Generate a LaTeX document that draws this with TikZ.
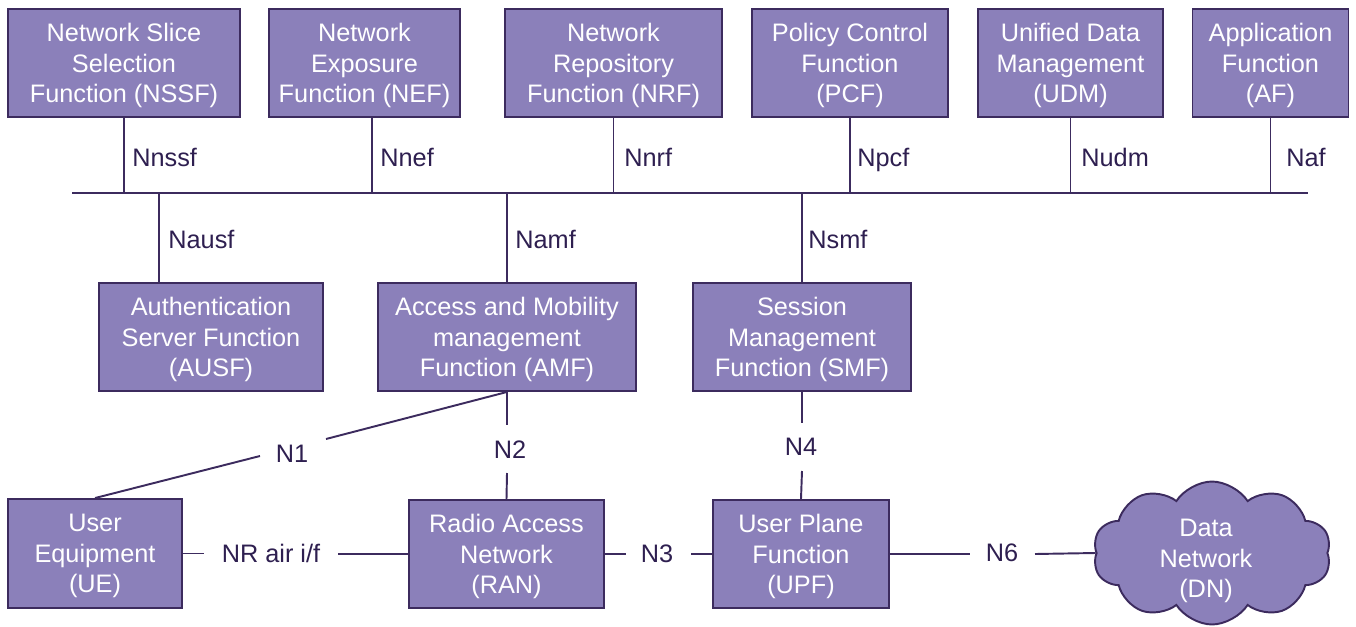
\documentclass[tikz,border=0pt]{standalone}
\usepackage{fontspec}
\setmainfont{Liberation Sans}
\usetikzlibrary{shapes.symbols,calc}
\definecolor{nffill}{HTML}{8B80BA}
\definecolor{nfline}{HTML}{3C2B5E}
\definecolor{lbl}{HTML}{2E1F50}
\begin{document}
\begin{tikzpicture}[x=0.02cm,y=-0.02cm,
  txt/.style={font=\fontsize{14.4}{17.4}\selectfont},
  nf/.style={txt, draw=nfline, fill=nffill, line width=1.1pt, text=white,
    align=center, inner sep=0pt, text depth=0pt, minimum height=2.16cm},
  iface/.style={txt, text=lbl, inner sep=0pt},
  link/.style={draw=nfline, line width=1.1pt}]
\useasboundingbox (0,0) rectangle (1356,626);

% service-based network functions (top row)
\node[nf, minimum width=4.64cm] (nssf) at (124,63)    {Network Slice\\Selection\\Function (NSSF)};
\node[nf, minimum width=3.82cm] (nef)  at (364.5,63)  {Network\\Exposure\\Function (NEF)};
\node[nf, minimum width=4.34cm] (nrf)  at (613.5,63)  {Network\\Repository\\Function (NRF)};
\node[nf, minimum width=3.92cm] (pcf)  at (850,63)    {Policy Control\\Function\\(PCF)};
\node[nf, minimum width=3.70cm] (udm)  at (1070.5,63) {Unified Data\\Management\\(UDM)};
\node[nf, minimum width=3.12cm] (af)   at (1270.5,63) {Application\\Function\\(AF)};

% middle row
\node[nf, minimum width=4.48cm] (ausf) at (211,337) {Authentication\\Server Function\\(AUSF)};
\node[nf, minimum width=5.16cm] (amf)  at (507,337) {Access and Mobility\\management\\Function (AMF)};
\node[nf, minimum width=4.36cm] (smf)  at (802,337) {Session\\Management\\Function (SMF)};

% user plane row
\node[nf, minimum width=3.48cm, minimum height=2.18cm] (ue)  at (95,553.5) {User\\Equipment\\(UE)};
\node[nf, minimum width=3.90cm] (ran) at (506.5,554) {Radio Access\\Network\\(RAN)};
\node[nf, minimum width=3.52cm] (upf) at (801,554)   {User Plane\\Function\\(UPF)};

% data network cloud, its caption sits a little below the centre
\node[cloud, cloud puffs=10, cloud puff arc=115, aspect=1.6, draw=nfline, fill=nffill,
  line width=1.1pt, inner sep=0pt,
  minimum width=4.76cm, minimum height=2.86cm] (dn) at (1212,553) {};
\node[txt, text=white, align=center, inner sep=0pt, text depth=0pt]
  (dntext) at (1206,558.5) {Data\\Network\\(DN)};

% service bus
\coordinate (busL) at (72,193);
\coordinate (busR) at (1308,193);
\draw[link] (busL) -- (busR);

\coordinate (nefp)  at ([xshift=0.15cm]nef.south);
\coordinate (ausfp) at ([xshift=-1.04cm]ausf.north);
\draw[link] (nssf.south) -- (nssf.south |- busL);
\draw[link] (nefp) -- (nefp |- busL);
\draw[link] (nrf.south) -- (nrf.south |- busL);
\draw[link] (pcf.south) -- (pcf.south |- busL);
\draw[link] (udm.south) -- (udm.south |- busL);
\draw[link] (af.south) -- (af.south |- busL);
\draw[link] (ausfp) -- (ausfp |- busL);
\draw[link] (amf.north) -- (amf.north |- busL);
\draw[link] (smf.north) -- (smf.north |- busL);

% service interface names
\node[iface, anchor=base west] (lnssf) at (132,166)  {Nnssf};
\node[iface, anchor=base west] (lnef)  at (380,166)  {Nnef};
\node[iface, anchor=base west] (lnrf)  at (624,166)  {Nnrf};
\node[iface, anchor=base west] (lpcf)  at (857,166)  {Npcf};
\node[iface, anchor=base west] (ludm)  at (1081,166) {Nudm};
\node[iface, anchor=base west] (laf)   at (1286,166) {Naf};
\node[iface, anchor=base west] (lausf) at (168,248)  {Nausf};
\node[iface, anchor=base west] (lamf)  at (515,248)  {Namf};
\node[iface, anchor=base west] (lsmf)  at (808,248)  {Nsmf};

% reference points
\node[iface] (n1)  at (292,454)  {N1};
\node[iface] (n2)  at (510,450)  {N2};
\node[iface] (n4)  at (801,447)  {N4};
\node[iface] (nr)  at (271,553)  {NR air i/f};
\node[iface] (n3)  at (657,554)  {N3};
\node[iface] (n6)  at (1002,553) {N6};

\coordinate (n1a) at (260,456);
\coordinate (n1b) at (326,439);
\draw[link] (ue.north) -- (n1a);
\draw[link] (n1b) -- (amf.south);

\coordinate (n2a) at (507,425);
\coordinate (n2b) at (507,473);
\draw[link] (amf.south) -- (n2a);
\draw[link] (n2b) -- (ran.north);

\coordinate (n4a) at (802,423);
\coordinate (n4b) at (802,471);
\draw[link] (smf.south) -- (n4a);
\draw[link] (n4b) -- (upf.north);

\coordinate (nra) at (204,553.5);
\coordinate (nrb) at (338,554);
\draw[link] (ue.east) -- (nra);
\draw[link] (nrb) -- (ran.west);

\coordinate (n3a) at (626,554);
\coordinate (n3b) at (691,554);
\draw[link] (ran.east) -- (n3a);
\draw[link] (n3b) -- (upf.west);

\coordinate (n6a) at (970,554);
\coordinate (n6b) at (1035,554);
\draw[link] (upf.east) -- (n6a);
\draw[link] (n6b) -- (dn.west);
\end{tikzpicture}
\end{document}
